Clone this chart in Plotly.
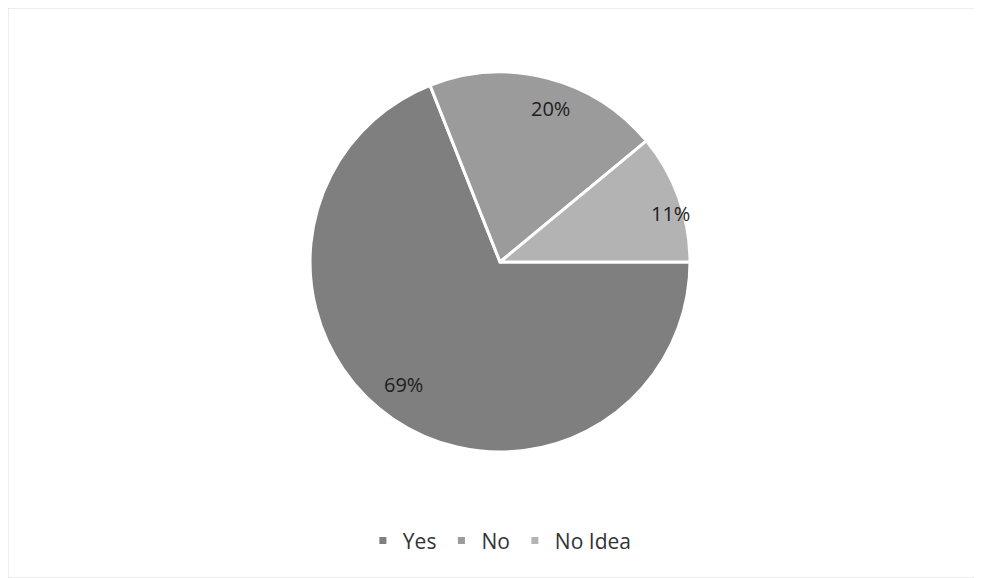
import math
import plotly.graph_objects as go

labels = ["Yes", "No", "No Idea"]
values = [69, 20, 11]
colors = ["#7f7f7f", "#9b9b9b", "#b3b3b3"]

# radial position of each percent label, as a fraction of the radius
label_r = [0.82, 0.85, 0.93]
label_turn = 4  # degrees, labels sit a bit clockwise of the slice middle

W, H = 974, 570
pie_x = [0.3101, 0.7002]
pie_y = [0.2211, 0.8877]

fig = go.Figure()
fig.add_trace(go.Pie(
    labels=labels,
    values=values,
    sort=False,
    direction="clockwise",
    rotation=90,
    marker=dict(colors=colors, line=dict(color="white", width=3)),
    textinfo="none",
    showlegend=False,
    hoverinfo="label+percent",
    domain=dict(x=pie_x, y=pie_y),
))

# percent labels placed near the middle angle of each slice
total = sum(values)
cx = (pie_x[0] + pie_x[1]) / 2 * W
cy = (pie_y[0] + pie_y[1]) / 2 * H
rad = (pie_x[1] - pie_x[0]) * W / 2
start = 90.0  # degrees clockwise from 12 o'clock
for v, f in zip(values, label_r):
    sweep = v / total * 360
    mid = math.radians(start + sweep / 2 + label_turn)
    px = cx + f * rad * math.sin(mid)
    py = cy + f * rad * math.cos(mid)
    fig.add_annotation(
        x=px / W, y=py / H, xref="paper", yref="paper",
        xanchor="center", yanchor="middle",
        text=f"{v}%", showarrow=False,
        font=dict(family="Open Sans", size=20, color="#1e1e1e"),
    )
    start += sweep

# small square legend keys like the original
for name, c in zip(labels, colors):
    fig.add_trace(go.Scatter(
        x=[None], y=[None], mode="markers", name=name,
        marker=dict(symbol="square", size=7, color=c),
    ))

fig.add_shape(type="rect", xref="paper", yref="paper",
              x0=0.0, x1=0.993, y0=0.0, y1=1.0,
              line=dict(color="#dcdcdc", width=1))

fig.update_layout(
    width=W, height=H,
    margin=dict(l=0, r=0, t=0, b=0),
    paper_bgcolor="white", plot_bgcolor="white",
    xaxis=dict(visible=False), yaxis=dict(visible=False),
    legend=dict(orientation="h", x=0.505, xanchor="center", y=0.065, yanchor="middle",
                font=dict(family="Open Sans", size=21, color="#333333"),
                itemwidth=30, traceorder="normal"),
)

fig.write_html("out.html")
